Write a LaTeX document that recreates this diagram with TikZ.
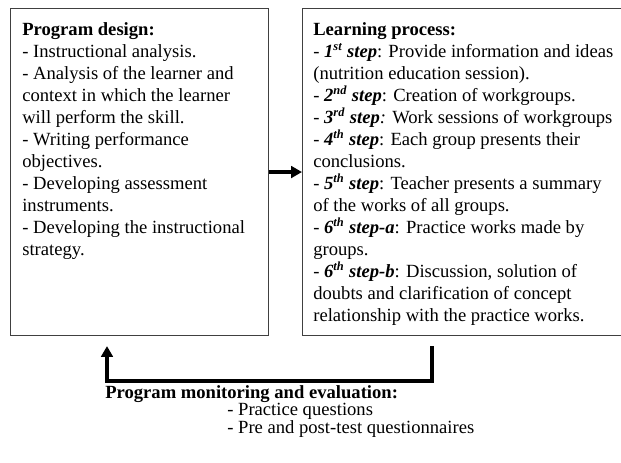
\documentclass[tikz,border=0pt]{standalone}
\usepackage{fontspec}
\setmainfont{Liberation Serif}
\usetikzlibrary{arrows.meta,positioning,calc}

\tikzset{
  box/.style={draw=black!75, line width=0.6pt, rectangle, inner sep=0pt, anchor=north west},
  boxtext/.style={align=left, anchor=north west, inner sep=0pt,
                  font=\fontsize{12}{14.2}\selectfont},
  plaintext/.style={anchor=base west, inner sep=0pt, font=\fontsize{12}{14.2}\selectfont},
  flow/.style={line width=2.3pt, -{Triangle[length=7pt,width=7.5pt]}},
}
\newcommand{\stepno}[2]{\textbf{\textit{#1\textsuperscript{#2} step}}}

\begin{document}
\begin{tikzpicture}[x=0.645pt, y=-0.645pt]
    \useasboundingbox (0,0) rectangle (621,462);

    % Two boxes
    \node[box, minimum width=166.4pt, minimum height=211pt] (design) at (10,8) {};
    \node[box, minimum width=225pt, minimum height=211pt] (process) at (302,8) {};

    % Program design
    \node[boxtext] (designtxt) at (22,22) {\textbf{Program design:}\\
        - Instructional analysis.\\
        - Analysis of the learner and\\
        context in which the learner\\
        will perform the skill.\\
        - Writing performance\\
        objectives.\\
        - Developing assessment\\
        instruments.\\
        - Developing the instructional\\
        strategy.};

    % Learning process
    \node[boxtext] (processtxt) at (313,22) {\textbf{Learning process:}\\
        - \stepno{1}{st}: Provide information and ideas\\
        (nutrition education session).\\
        - \stepno{2}{nd}: Creation of workgroups.\\
        - \stepno{3}{rd}\textit{:} Work sessions of workgroups\\
        - \stepno{4}{th}: Each group presents their\\
        conclusions.\\
        - \stepno{5}{th}: Teacher presents a summary\\
        of the works of all groups.\\
        - \textbf{\textit{6\textsuperscript{th} step-a}}: Practice works made by\\
        groups.\\
        - \textbf{\textit{6\textsuperscript{th} step-b}}: Discussion, solution of\\
        doubts and clarification of concept\\
        relationship with the practice works.};

    % Arrow between boxes
    \draw[flow] (design.east) -- (process.west);

    % Feedback loop
    \coordinate (fbout) at ($(process.south west)+(130,10)$);
    \coordinate (fbin) at ($(design.south west)+(97,10)$);
    \draw[flow] (fbout) -- ++(0,35) -| (fbin);

    % Monitoring and evaluation
    \node[plaintext, font=\fontsize{12}{14.2}\selectfont\bfseries]
        (monitor) at (105,398) {Program monitoring and evaluation:};
    \node[plaintext] (practice) at (227,415.5) {- Practice questions};
    \node[plaintext] (prepost) at (227,433) {- Pre and post-test questionnaires};
\end{tikzpicture}
\end{document}
